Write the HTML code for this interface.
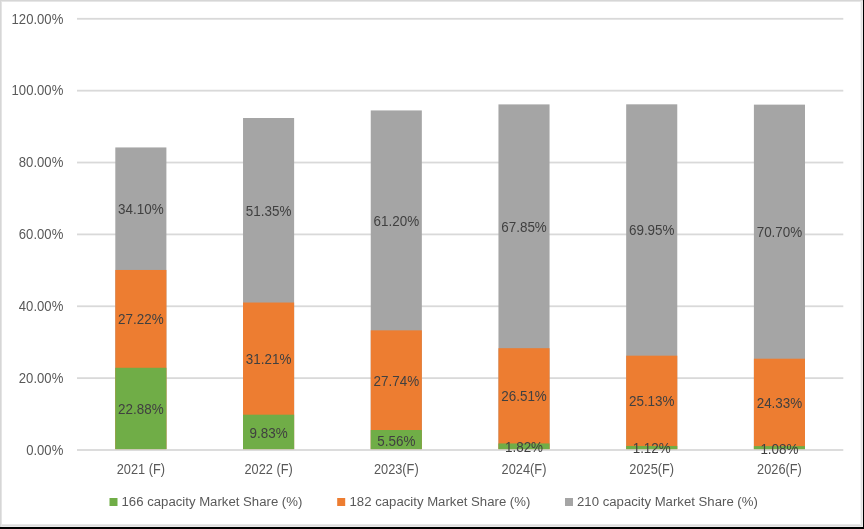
<!DOCTYPE html>
<html><head><meta charset="utf-8"><style>
html,body{margin:0;padding:0;background:#000;width:864px;height:529px;overflow:hidden}
#frame{position:absolute;left:0;top:0;width:863px;height:527px;background:#fff}
svg{position:absolute;left:0;top:0}
text{font-family:"Liberation Sans",sans-serif;filter:blur(0)}
.ax{fill:#595959}
.dl{fill:#404040}
</style></head><body>
<div id="frame"></div>
<svg width="864" height="529" viewBox="0 0 864 529">
<rect x="0" y="524" width="863" height="1" fill="#e8e8e8"/>
<rect x="860" y="0" width="1" height="527" fill="#f4f4f4"/>
<rect x="0" y="525" width="863" height="1" fill="#dcdcdc"/>
<rect x="861" y="0" width="1" height="527" fill="#e0e0e0"/>
<rect x="0" y="526" width="863" height="1" fill="#eaeaea"/>
<rect x="862" y="0" width="1" height="527" fill="#ebebeb"/>
<rect x="0" y="1" width="863" height="1" fill="#e6e6e6"/>
<rect x="1" y="0" width="1" height="527" fill="#e4e4e4"/>
<rect x="0" y="0" width="863" height="1" fill="#d6d6d6"/>
<rect x="0" y="0" width="1" height="527" fill="#d6d6d6"/>
<rect x="77.00" y="449.10" width="766.30" height="1.8" fill="#d9d9d9"/>
<text transform="translate(63.30 455.00) scale(0.93 1)" x="0" y="0" text-anchor="end" class="ax" style="font-size:14.1px">0.00%</text>
<rect x="77.00" y="377.23" width="766.30" height="1.8" fill="#d9d9d9"/>
<text transform="translate(63.30 383.00) scale(0.93 1)" x="0" y="0" text-anchor="end" class="ax" style="font-size:14.1px">20.00%</text>
<rect x="77.00" y="305.37" width="766.30" height="1.8" fill="#d9d9d9"/>
<text transform="translate(63.30 311.00) scale(0.93 1)" x="0" y="0" text-anchor="end" class="ax" style="font-size:14.1px">40.00%</text>
<rect x="77.00" y="233.50" width="766.30" height="1.8" fill="#d9d9d9"/>
<text transform="translate(63.30 239.00) scale(0.93 1)" x="0" y="0" text-anchor="end" class="ax" style="font-size:14.1px">60.00%</text>
<rect x="77.00" y="161.63" width="766.30" height="1.8" fill="#d9d9d9"/>
<text transform="translate(63.30 167.00) scale(0.93 1)" x="0" y="0" text-anchor="end" class="ax" style="font-size:14.1px">80.00%</text>
<rect x="77.00" y="89.77" width="766.30" height="1.8" fill="#d9d9d9"/>
<text transform="translate(63.30 95.00) scale(0.93 1)" x="0" y="0" text-anchor="end" class="ax" style="font-size:14.1px">100.00%</text>
<rect x="77.00" y="17.90" width="766.30" height="1.8" fill="#d9d9d9"/>
<text transform="translate(63.30 24.00) scale(0.93 1)" x="0" y="0" text-anchor="end" class="ax" style="font-size:14.1px">120.00%</text>
<rect x="115.31" y="147.44" width="51.09" height="301.66" fill="#a5a5a5"/>
<rect x="115.31" y="269.97" width="51.09" height="179.13" fill="#ed7d31"/>
<rect x="115.31" y="367.78" width="51.09" height="81.32" fill="#70ad47"/>
<text transform="translate(140.86 414.00) scale(0.975 1)" x="0" y="0" text-anchor="middle" class="dl" style="font-size:13.8px">22.88%</text>
<text transform="translate(140.86 324.00) scale(0.975 1)" x="0" y="0" text-anchor="middle" class="dl" style="font-size:13.8px">27.22%</text>
<text transform="translate(140.86 214.00) scale(0.975 1)" x="0" y="0" text-anchor="middle" class="dl" style="font-size:13.8px">34.10%</text>
<text transform="translate(140.86 474.00) scale(0.914 1)" x="0" y="0" text-anchor="middle" class="ax" style="font-size:14.0px">2021 (F)</text>
<rect x="243.03" y="118.01" width="51.09" height="331.09" fill="#a5a5a5"/>
<rect x="243.03" y="302.53" width="51.09" height="146.57" fill="#ed7d31"/>
<rect x="243.03" y="414.68" width="51.09" height="34.42" fill="#70ad47"/>
<text transform="translate(268.57 438.00) scale(0.975 1)" x="0" y="0" text-anchor="middle" class="dl" style="font-size:13.8px">9.83%</text>
<text transform="translate(268.57 364.00) scale(0.975 1)" x="0" y="0" text-anchor="middle" class="dl" style="font-size:13.8px">31.21%</text>
<text transform="translate(268.57 216.00) scale(0.975 1)" x="0" y="0" text-anchor="middle" class="dl" style="font-size:13.8px">51.35%</text>
<text transform="translate(268.57 474.00) scale(0.914 1)" x="0" y="0" text-anchor="middle" class="ax" style="font-size:14.0px">2022 (F)</text>
<rect x="370.75" y="110.43" width="51.09" height="338.67" fill="#a5a5a5"/>
<rect x="370.75" y="330.34" width="51.09" height="118.76" fill="#ed7d31"/>
<rect x="370.75" y="430.02" width="51.09" height="19.08" fill="#70ad47"/>
<text transform="translate(396.29 446.00) scale(0.975 1)" x="0" y="0" text-anchor="middle" class="dl" style="font-size:13.8px">5.56%</text>
<text transform="translate(396.29 386.00) scale(0.975 1)" x="0" y="0" text-anchor="middle" class="dl" style="font-size:13.8px">27.74%</text>
<text transform="translate(396.29 226.00) scale(0.975 1)" x="0" y="0" text-anchor="middle" class="dl" style="font-size:13.8px">61.20%</text>
<text transform="translate(396.29 474.00) scale(0.914 1)" x="0" y="0" text-anchor="middle" class="ax" style="font-size:14.0px">2023(F)</text>
<rect x="498.46" y="104.39" width="51.09" height="344.71" fill="#a5a5a5"/>
<rect x="498.46" y="348.20" width="51.09" height="100.90" fill="#ed7d31"/>
<rect x="498.46" y="443.46" width="51.09" height="5.64" fill="#70ad47"/>
<text transform="translate(524.01 452.00) scale(0.975 1)" x="0" y="0" text-anchor="middle" class="dl" style="font-size:13.8px">1.82%</text>
<text transform="translate(524.01 401.00) scale(0.975 1)" x="0" y="0" text-anchor="middle" class="dl" style="font-size:13.8px">26.51%</text>
<text transform="translate(524.01 232.00) scale(0.975 1)" x="0" y="0" text-anchor="middle" class="dl" style="font-size:13.8px">67.85%</text>
<text transform="translate(524.01 474.00) scale(0.914 1)" x="0" y="0" text-anchor="middle" class="ax" style="font-size:14.0px">2024(F)</text>
<rect x="626.18" y="104.32" width="51.09" height="344.78" fill="#a5a5a5"/>
<rect x="626.18" y="355.68" width="51.09" height="93.43" fill="#ed7d31"/>
<rect x="626.18" y="445.98" width="51.09" height="3.12" fill="#70ad47"/>
<text transform="translate(651.72 453.00) scale(0.975 1)" x="0" y="0" text-anchor="middle" class="dl" style="font-size:13.8px">1.12%</text>
<text transform="translate(651.72 406.00) scale(0.975 1)" x="0" y="0" text-anchor="middle" class="dl" style="font-size:13.8px">25.13%</text>
<text transform="translate(651.72 235.00) scale(0.975 1)" x="0" y="0" text-anchor="middle" class="dl" style="font-size:13.8px">69.95%</text>
<text transform="translate(651.72 474.00) scale(0.914 1)" x="0" y="0" text-anchor="middle" class="ax" style="font-size:14.0px">2025(F)</text>
<rect x="753.90" y="104.64" width="51.09" height="344.46" fill="#a5a5a5"/>
<rect x="753.90" y="358.69" width="51.09" height="90.41" fill="#ed7d31"/>
<rect x="753.90" y="446.12" width="51.09" height="2.98" fill="#70ad47"/>
<text transform="translate(779.44 454.00) scale(0.975 1)" x="0" y="0" text-anchor="middle" class="dl" style="font-size:13.8px">1.08%</text>
<text transform="translate(779.44 408.00) scale(0.975 1)" x="0" y="0" text-anchor="middle" class="dl" style="font-size:13.8px">24.33%</text>
<text transform="translate(779.44 237.00) scale(0.975 1)" x="0" y="0" text-anchor="middle" class="dl" style="font-size:13.8px">70.70%</text>
<text transform="translate(779.44 474.00) scale(0.914 1)" x="0" y="0" text-anchor="middle" class="ax" style="font-size:14.0px">2026(F)</text>
<rect x="109.5" y="498" width="8" height="8" fill="#70ad47"/>
<text transform="translate(121.50 506.00) scale(0.962 1)" x="0" y="0" text-anchor="start" class="ax" style="font-size:13.7px">166 capacity Market Share (%)</text>
<rect x="337.2" y="498" width="8" height="8" fill="#ed7d31"/>
<text transform="translate(349.50 506.00) scale(0.962 1)" x="0" y="0" text-anchor="start" class="ax" style="font-size:13.7px">182 capacity Market Share (%)</text>
<rect x="565.0" y="498" width="8" height="8" fill="#a5a5a5"/>
<text transform="translate(577.00 506.00) scale(0.962 1)" x="0" y="0" text-anchor="start" class="ax" style="font-size:13.7px">210 capacity Market Share (%)</text>
</svg>
</body></html>
